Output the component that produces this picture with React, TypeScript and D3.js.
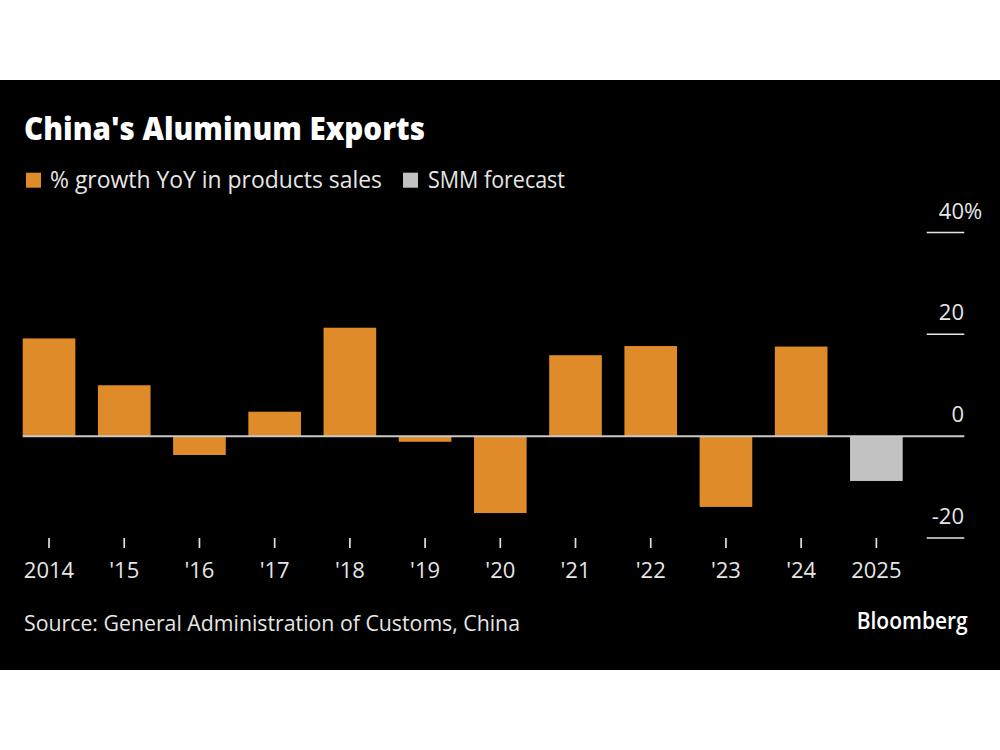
import React from "react";
import * as d3 from "d3";

const categories = ["2014", "'15", "'16", "'17", "'18", "'19", "'20", "'21", "'22", "'23", "'24", "2025"];
const growthYears = ["2014", "'15", "'16", "'17", "'18", "'19", "'20", "'21", "'22", "'23", "'24"];
const growthValues = [19.2, 10.0, -3.7, 4.8, 21.3, -1.1, -15.1, 15.9, 17.7, -13.9, 17.6];
const forecastYears = ["2025"];
const forecastValues = [-8.8];
const yTicks = [-20, 0, 20, 40];

const title = "China's Aluminum Exports";
const legendItems = ["% growth YoY in products sales", "SMM forecast"];
const source = "Source: General Administration of Customs, China";

const ORANGE = "#df8b29";
const GREY = "#c2c2c2";
const FONT = "'Open Sans', 'Noto Sans', sans-serif";

export default function App() {
  const W = 1000, H = 750;
  const x = d3.scaleBand<string>().domain(categories).range([22.7, 902.7]).paddingInner(0.3).paddingOuter(0);
  const y = d3.scaleLinear().domain([-20, 40]).range([538, 232.5]);
  const bw = x.bandwidth();

  const bar = (cat: string, v: number, fill: string) => (
    <rect key={cat} x={x(cat)} y={y(Math.max(0, v))} width={bw} height={Math.abs(y(v) - y(0))} fill={fill} />
  );

  return (
    <svg width={W} height={H} style={{ position: "absolute", left: 0, top: 0, background: "#fff" }}>
      <rect x={0} y={80} width={W} height={590} fill="#000" />
      <text x={24} y={140} fill="#fff" fontFamily={FONT} fontWeight={800} fontSize={31} textLength={401} lengthAdjust="spacingAndGlyphs">{title}</text>

      <rect x={26} y={172.7} width={15} height={15} fill={ORANGE} />
      <text x={50} y={188} fill="#e6e6e6" fontFamily={FONT} fontSize={23} textLength={332} lengthAdjust="spacingAndGlyphs">{legendItems[0]}</text>
      <rect x={403} y={172.7} width={15} height={15} fill={GREY} />
      <text x={428} y={188} fill="#e6e6e6" fontFamily={FONT} fontSize={23} textLength={137} lengthAdjust="spacingAndGlyphs">{legendItems[1]}</text>

      {yTicks.filter(t => t !== 0).map(t => (
        <line key={"g" + t} x1={926.7} x2={964.3} y1={y(t)} y2={y(t)} stroke="#e6e6e6" strokeWidth={1.5} />
      ))}
      {yTicks.map(t => (
        <g key={"l" + t}>
          <text x={964} y={y(t) - 14} textAnchor="end" fill="#e6e6e6" fontFamily={FONT} fontSize={22}>{String(t)}</text>
          {t === 40 ? <text x={964} y={y(t) - 14} fill="#e6e6e6" fontFamily={FONT} fontSize={22}>%</text> : null}
        </g>
      ))}

      {growthYears.map((c, i) => bar(c, growthValues[i], ORANGE))}
      {forecastYears.map((c, i) => bar(c, forecastValues[i], GREY))}

      <line x1={22.7} x2={964.3} y1={y(0)} y2={y(0)} stroke="#c8c8c8" strokeWidth={2} />

      {categories.map(c => {
        const cx = (x(c) as number) + bw / 2;
        return (
          <g key={"t" + c}>
            <line x1={cx} x2={cx} y1={538} y2={548} stroke="#e0e0e0" strokeWidth={1.7} />
            <text x={cx} y={578} textAnchor="middle" fill="#e6e6e6" fontFamily={FONT} fontSize={22}>{c}</text>
          </g>
        );
      })}

      <text x={24} y={631} fill="#e6e6e6" fontFamily={FONT} fontSize={21} textLength={496} lengthAdjust="spacingAndGlyphs">{source}</text>
      <text x={856.7} y={628.5} fill="#fff" fontFamily={FONT} fontWeight={600} fontSize={22.5} textLength={111} lengthAdjust="spacingAndGlyphs">Bloomberg</text>
    </svg>
  );
}
